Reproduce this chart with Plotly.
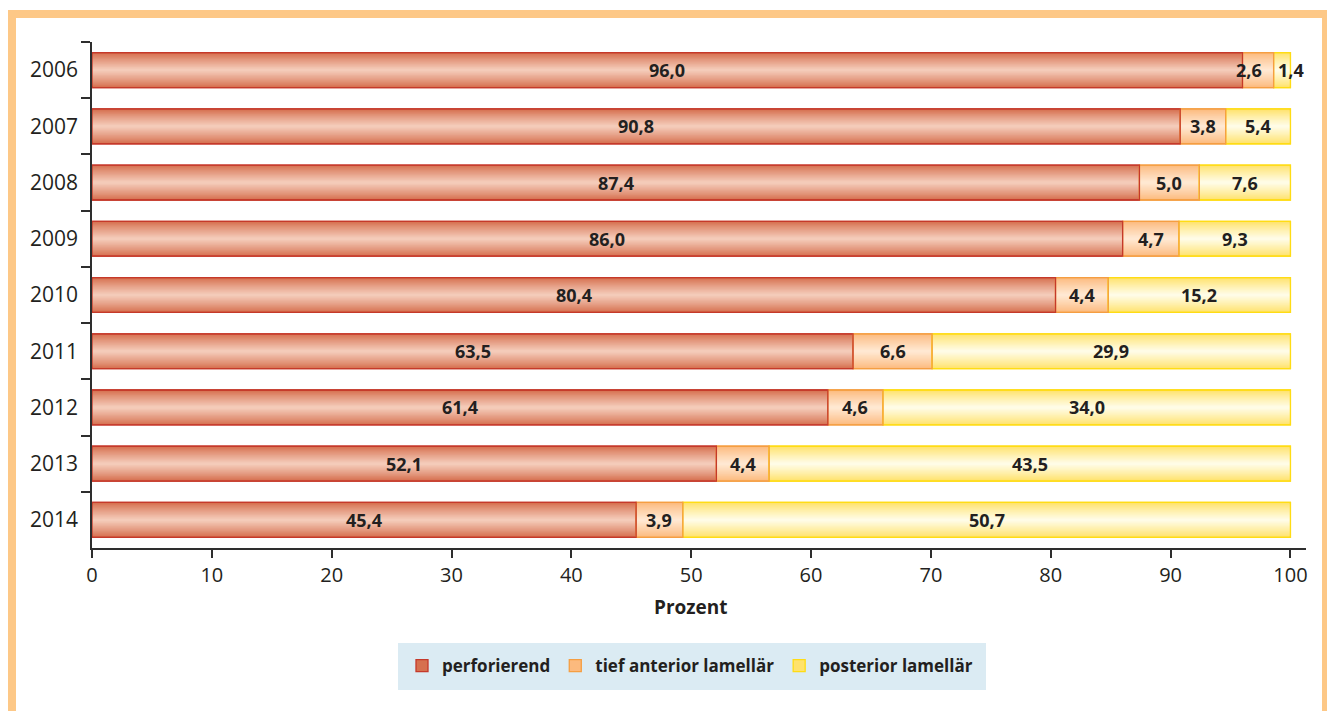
import plotly.graph_objects as go

# Data: share of keratoplasty techniques per year (percent)
years = ["2006", "2007", "2008", "2009", "2010", "2011", "2012", "2013", "2014"]
perforierend = [96.0, 90.8, 87.4, 86.0, 80.4, 63.5, 61.4, 52.1, 45.4]
tief_anterior = [2.6, 3.8, 5.0, 4.7, 4.4, 6.6, 4.6, 4.4, 3.9]
posterior = [1.4, 5.4, 7.6, 9.3, 15.2, 29.9, 34.0, 43.5, 50.7]
series_names = ["perforierend", "tief anterior lamellär", "posterior lamellär"]
x_ticks = [0, 10, 20, 30, 40, 50, 60, 70, 80, 90, 100]

FONT = "Open Sans"
TEXT = "#231F20"
AXIS = "#2E2E2E"

# edge / centre colours of the shaded bars plus outline colour
styles = [
    dict(edge="#D6704F", center="#F4CBB9", line="#C5392A"),
    dict(edge="#FCBA7E", center="#FFE8D2", line="#F59E42"),
    dict(edge="#FFE26C", center="#FFFCE6", line="#FFDC14"),
]

# horizontal nudges (px) for labels of very thin segments: (series index, row index)
label_nudge = {(1, 0): -9, (2, 0): 9}


def hex_to_rgb(h):
    h = h.lstrip("#")
    return tuple(int(h[i:i + 2], 16) for i in (0, 2, 4))


def mix(c1, c2, t):
    a, b = hex_to_rgb(c1), hex_to_rgb(c2)
    return "rgb({},{},{})".format(*[round(a[i] + (b[i] - a[i]) * t) for i in range(3)])


def fmt(v):
    return f"{v:.1f}".replace(".", ",")


series = [perforierend, tief_anterior, posterior]

# cumulative starting points of each stacked segment
bases = []
running = [0.0] * len(years)
for vals in series:
    bases.append(list(running))
    running = [r + v for r, v in zip(running, vals)]

BAR_W = 0.62
N_LAYERS = 14

fig = go.Figure()

# shaded fill: narrower, lighter bars laid over each other
for name, vals, base, st in zip(series_names, series, bases, styles):
    for k in range(N_LAYERS):
        t = k / (N_LAYERS - 1)
        w = BAR_W * (1 - k / N_LAYERS)
        fig.add_trace(go.Bar(
            y=years, x=vals, base=base, orientation="h",
            width=w,
            marker=dict(color=mix(st["edge"], st["center"], t ** 0.9),
                        line=dict(width=1.3 if k == 0 else 0, color=st["line"])),
            name=name, legendgroup=name, showlegend=(k == 0),
            hoverinfo="skip",
        ))

# outlines on top (first series drawn last so its edge stays visible)
for name, vals, base, st in reversed(list(zip(series_names, series, bases, styles))):
    fig.add_trace(go.Bar(
        y=years, x=vals, base=base, orientation="h",
        width=BAR_W,
        marker=dict(color="rgba(0,0,0,0)", line=dict(width=1.3, color=st["line"])),
        name=name, legendgroup=name, showlegend=False,
        customdata=[fmt(v) for v in vals],
        hovertemplate="%{y}: %{customdata}<extra>" + name + "</extra>",
    ))

# value labels centred on each segment (y given as category index)
annotations = []
for si, (vals, base) in enumerate(zip(series, bases)):
    for ri, (v, b) in enumerate(zip(vals, base)):
        annotations.append(dict(
            x=b + v / 2, y=ri, xref="x", yref="y", text=fmt(v),
            showarrow=False, xanchor="center", yanchor="middle",
            xshift=label_nudge.get((si, ri), 0),
            font=dict(family=FONT, size=18, color=TEXT, weight="bold"),
        ))

W, H = 1327, 711
ML, MR, MT, MB = 92, 21, 42, 163
PW, PH = W - ML - MR, H - MT - MB


def px_x(x):
    return (x - ML) / PW


def px_y(y):
    return (H - MB - y) / PH


annotations.append(dict(text="Prozent", x=50, xref="x", y=px_y(607), yref="paper",
                        showarrow=False, yanchor="middle",
                        font=dict(family=FONT, size=19, color=TEXT, weight="bold")))

shapes = [
    # orange frame around the figure
    dict(type="rect", xref="paper", yref="paper",
         x0=px_x(12), x1=px_x(1326), y0=px_y(780), y1=px_y(14),
         line=dict(color="#FDC887", width=8), fillcolor="rgba(0,0,0,0)"),
    # light blue legend panel
    dict(type="rect", xref="paper", yref="paper",
         x0=px_x(398), x1=px_x(986), y0=px_y(690), y1=px_y(643),
         line=dict(width=0), fillcolor="#DBEBF3"),
]

fig.update_layout(
    width=W, height=H, autosize=False,
    margin=dict(l=ML, r=MR, t=MT, b=MB),
    paper_bgcolor="white", plot_bgcolor="white",
    barmode="overlay",
    font=dict(family=FONT, size=20, color=TEXT),
    shapes=shapes,
    annotations=annotations,
    legend=dict(orientation="h", x=px_x(690), xanchor="center",
                y=px_y(666), yanchor="middle",
                bgcolor="rgba(0,0,0,0)",
                font=dict(family=FONT, size=17, color=TEXT, weight="bold"),
                traceorder="normal", itemwidth=30),
)

fig.update_xaxes(
    range=[0, 101.3], tickvals=x_ticks, ticktext=[str(v) for v in x_ticks],
    showgrid=False, zeroline=False,
    showline=True, linecolor=AXIS, linewidth=1.5,
    ticks="outside", ticklen=8, tickwidth=1.5, tickcolor=AXIS,
    tickfont=dict(family=FONT, size=20, color=TEXT),
)
fig.update_yaxes(
    type="category", categoryorder="array", categoryarray=years,
    range=[len(years) - 0.5, -0.5],
    showgrid=False, zeroline=False,
    showline=True, linecolor=AXIS, linewidth=1.5,
    ticks="outside", ticklen=9, tickwidth=1.5, tickcolor=AXIS,
    tickson="boundaries", ticklabelstandoff=8,
    tickfont=dict(family=FONT, size=21, color=TEXT),
)

fig.write_html("out.html")
